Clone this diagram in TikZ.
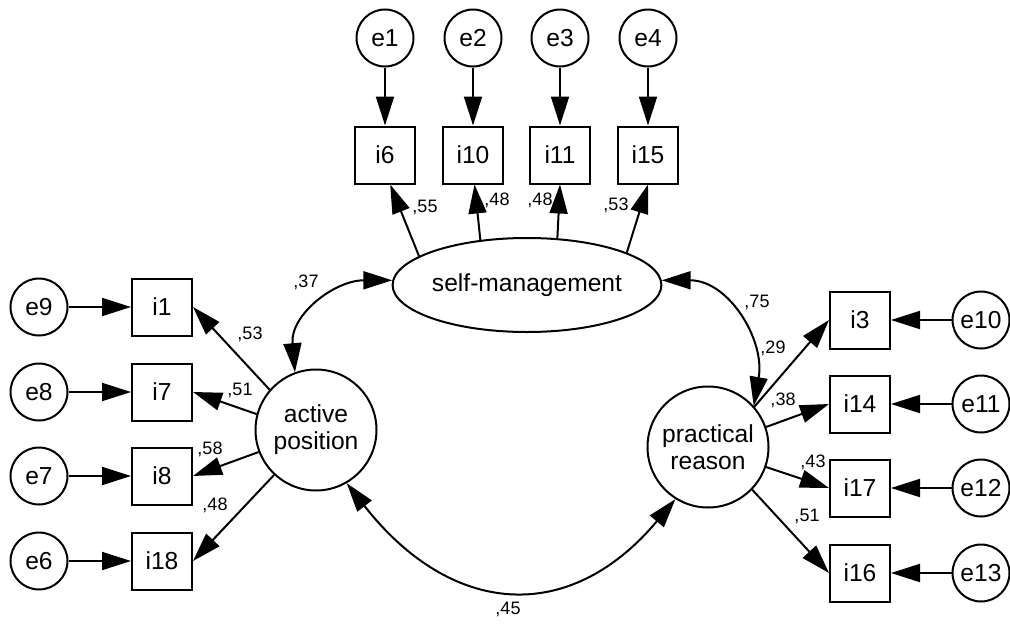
\documentclass[tikz,border=0pt]{standalone}
\usepackage{fontspec}
\setmainfont{Liberation Sans}
\usetikzlibrary{arrows.meta,shapes.geometric}
\begin{document}
\begin{tikzpicture}[x=1pt,y=-1pt,
  every node/.style={font=\fontsize{24.6}{27}\selectfont, inner sep=0pt},
  obs/.style={draw, line width=2pt, minimum width=60pt, minimum height=57pt},
  err/.style={draw, circle, line width=2pt, minimum size=57pt},
  lat/.style={draw, circle, line width=2pt, minimum size=121pt, align=center},
  latell/.style={draw, ellipse, line width=2pt, minimum width=247pt, minimum height=94pt},
  pth/.style={line width=2pt, -{Triangle[length=29pt,width=18pt]}},
  cov/.style={line width=2pt, {Triangle[length=29pt,width=18pt]}-{Triangle[length=29pt,width=18pt]}},
  lbl/.style={font=\fontsize{18}{20}\selectfont}
]
\useasboundingbox (0,0) rectangle (1010,624);
\fill[white] (0,0) rectangle (1010,624);

% latent variables
\node[latell] (sm) at (527,285) {self-management};
\node[lat] (ap) at (316,430) {active\\position};
\node[lat] (pr) at (708,447) {practical\\reason};

% top indicators
\node[obs] (i6) at (385,155) {i6};
\node[obs] (i10) at (473,155) {i10};
\node[obs] (i11) at (560,155) {i11};
\node[obs] (i15) at (648,155) {i15};
\node[err] (e1) at (385,38) {e1};
\node[err] (e2) at (473,38) {e2};
\node[err] (e3) at (560,38) {e3};
\node[err] (e4) at (648,38) {e4};

% left indicators
\node[obs] (i1) at (162,307) {i1};
\node[obs] (i7) at (162,392) {i7};
\node[obs] (i8) at (162,476) {i8};
\node[obs] (i18) at (162,561) {i18};
\node[err] (e9) at (39,307) {e9};
\node[err] (e8) at (39,392) {e8};
\node[err] (e7) at (39,476) {e7};
\node[err] (e6) at (39,561) {e6};

% right indicators
\node[obs] (i3) at (860,320) {i3};
\node[obs] (i14) at (860,404) {i14};
\node[obs] (i17) at (860,488) {i17};
\node[obs] (i16) at (860,573) {i16};
\node[err] (e10) at (981,320) {e10};
\node[err] (e11) at (981,404) {e11};
\node[err] (e12) at (981,488) {e12};
\node[err] (e13) at (981,573) {e13};

% error arrows
\draw[pth] (e1) -- (i6);
\draw[pth] (e2) -- (i10);
\draw[pth] (e3) -- (i11);
\draw[pth] (e4) -- (i15);
\draw[pth] (e9) -- (i1);
\draw[pth] (e8) -- (i7);
\draw[pth] (e7) -- (i8);
\draw[pth] (e6) -- (i18);
\draw[pth] (e10) -- (i3);
\draw[pth] (e11) -- (i14);
\draw[pth] (e12) -- (i17);
\draw[pth] (e13) -- (i16);

% loadings
\draw[pth] (sm.165) -- (i6.-80);
\draw[pth] (sm.136) -- (i10.-87);
\draw[pth] (sm.57) -- (i11.south);
\draw[pth] (sm.18) -- (i15.south);
\draw[pth] (ap.139) -- (i1.east);
\draw[pth] (ap.165) -- (i7.east);
\draw[pth] (ap.201) -- (i8.east);
\draw[pth] (ap.227) -- (i18.east);
\draw[pth] (pr.41) -- (i3.west);
\draw[pth] (pr.19) -- (i14.west);
\draw[pth] (pr.-19) -- (i17.west);
\draw[pth] (pr.-44) -- (i16.west);

% covariances
\draw[cov] (sm.178) to[out=180,in=95,looseness=1.1] (ap.110);
\draw[cov] (sm.2) to[out=0,in=80,looseness=1.1] (pr.42);
\draw[cov] (ap.-60) to[out=-52,in=-130,looseness=1.3] (pr.-122);

% labels
\node[lbl] (l1) at (425,207) {,55};
\node[lbl] (l2) at (497,200) {,48};
\node[lbl] (l3) at (540,200) {,48};
\node[lbl] (l4) at (616,205) {,53};
\node[lbl] (l5) at (306,282) {,37};
\node[lbl] (l6) at (250,334) {,53};
\node[lbl] (l7) at (240,390) {,51};
\node[lbl] (l8) at (210,449) {,58};
\node[lbl] (l9) at (215,505) {,48};
\node[lbl] (l10) at (757,302) {,75};
\node[lbl] (l11) at (773,348) {,29};
\node[lbl] (l12) at (783,400) {,38};
\node[lbl] (l13) at (813,462) {,43};
\node[lbl] (l14) at (807,516) {,51};
\node[lbl] (l15) at (508,609) {,45};
\end{tikzpicture}
\end{document}
